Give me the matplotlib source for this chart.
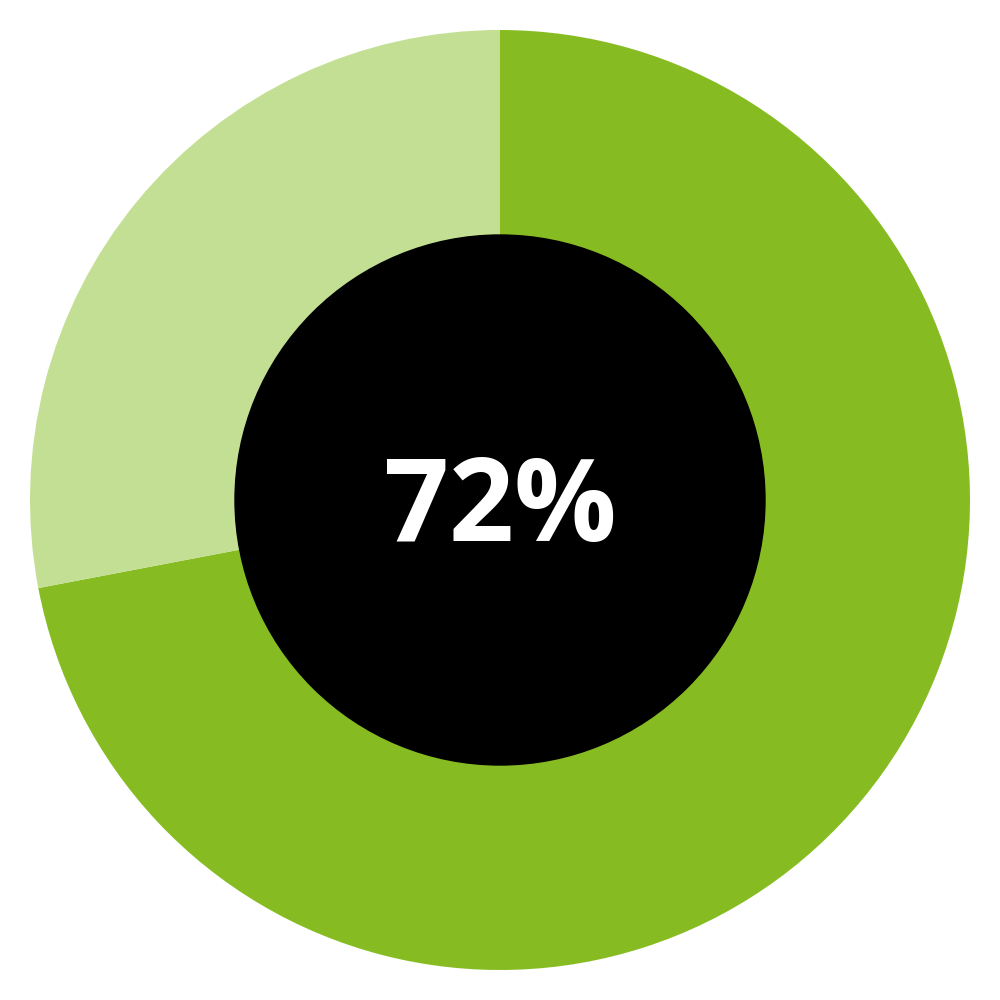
import matplotlib
matplotlib.use("Agg")
import matplotlib.pyplot as plt
from matplotlib.patches import Circle

labels = ["Yes", "No"]
values = [72, 28]
colors = ["#86BC22", "#C3DF93"]
center_text = "72%"

fig = plt.figure(figsize=(10, 10), dpi=100)
ax = fig.add_axes([0, 0, 1, 1])

ax.pie(values, colors=colors, radius=470, startangle=90, counterclock=False,
       center=(0, 0), wedgeprops=dict(linewidth=0), frame=True)
ax.set_xlim(-500, 500)
ax.set_ylim(-500, 500)
ax.set_aspect("equal")
ax.axis("off")
ax.add_patch(Circle((0, 0), 265, color="black", zorder=5))
ax.text(0, -12, center_text, color="white", fontsize=82, fontweight="bold",
        family=["Open Sans", "DejaVu Sans"], ha="center", va="center", zorder=6)

fig.savefig("out.png", dpi=100, facecolor="white")
